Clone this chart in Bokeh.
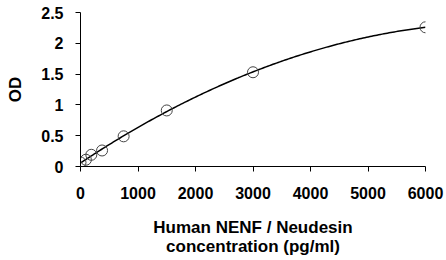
import numpy as np
from bokeh.plotting import figure
from bokeh.models import Range1d, FixedTicker
from bokeh.embed import file_html
from bokeh.resources import INLINE

conc = [0, 94, 188, 375, 750, 1500, 3000, 6000]
od = [0.065, 0.11, 0.19, 0.26, 0.49, 0.91, 1.53, 2.26]
x_ticks = [0, 1000, 2000, 3000, 4000, 5000, 6000]
y_ticks = [0, 0.5, 1, 1.5, 2, 2.5]
y_tick_labels = ["0", "0.5", "1", "1.5", "2", "2.5"]

FONT = "Liberation Sans"

p = figure(width=446, height=260, output_backend="svg", toolbar_location=None,
           x_range=Range1d(0, 6000), y_range=Range1d(0, 2.5),
           min_border_left=80, min_border_right=21, min_border_top=12, min_border_bottom=94)
p.outline_line_color = None
p.grid.visible = False

# smooth fitted curve (quadratic least squares through the data)
coef = np.polyfit(conc, od, 2)
xs = np.linspace(0, 6000, 200)
p.line(xs, np.polyval(coef, xs), line_color="black", line_width=1.5)
p.scatter(conc, od, size=11, fill_color=None, line_color="#444444", line_width=1)

for ax in (p.xaxis[0], p.yaxis[0]):
    ax.axis_line_color = "black"
    ax.major_tick_line_color = "black"
    ax.minor_tick_line_color = None
    ax.major_tick_out = 5
    ax.major_tick_in = 0
    ax.major_label_text_font = FONT
    ax.major_label_text_font_style = "bold"
    ax.major_label_text_font_size = "16px"
    ax.major_label_text_color = "black"
    ax.axis_label_text_font = FONT
    ax.axis_label_text_font_style = "bold"
    ax.axis_label_text_font_size = "17px"
    ax.axis_label_text_color = "black"
    ax.axis_label_text_line_height = 1.0

p.xaxis.major_label_standoff = 15
p.xaxis.axis_label_standoff = 16
p.yaxis.major_label_standoff = 12
p.yaxis.axis_label_standoff = 13
p.xaxis.ticker = FixedTicker(ticks=x_ticks)
p.yaxis.ticker = FixedTicker(ticks=y_ticks)
p.yaxis.major_label_overrides = {t: l for t, l in zip(y_ticks, y_tick_labels)}
p.xaxis.axis_label = "Human NENF / Neudesin\nconcentration (pg/ml)"
p.yaxis.axis_label = "OD"

open("out.html", "w").write(file_html(p, INLINE))
